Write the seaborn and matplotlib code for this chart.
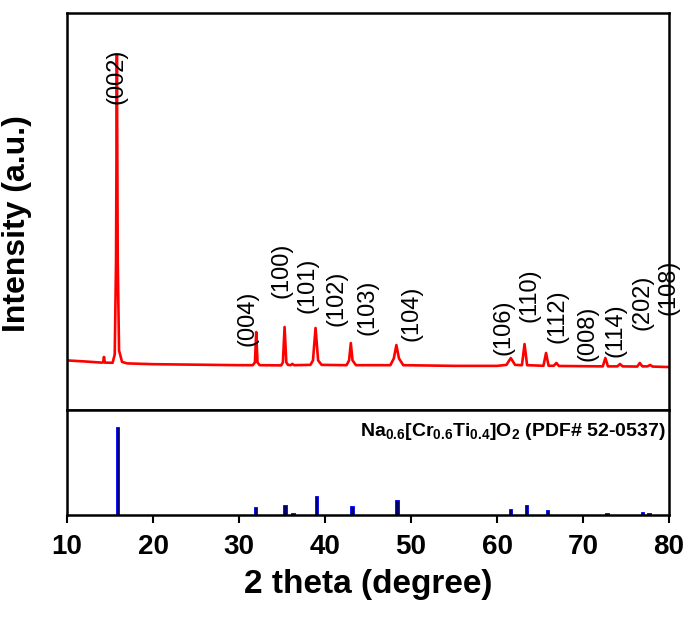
import matplotlib
matplotlib.use("Agg")
import matplotlib.pyplot as plt
import seaborn as sns
import pandas as pd

# Measured XRD trace (2-theta in degrees, intensity in counts)
two_theta = [10.0, 12.0, 14.0, 14.2, 14.3, 14.4, 15.3, 15.55, 15.7, 15.8, 15.9, 16.05, 16.4,
             17.0, 20.0, 25.0, 30.0, 31.6, 31.85, 32.0, 32.15, 32.4,
             34.9, 35.1, 35.3, 35.5, 35.7, 36.0, 36.2, 36.4,
             38.3, 38.6, 38.9, 39.2, 39.6,
             42.5, 42.8, 43.0, 43.2, 43.6,
             47.6, 48.0, 48.3, 48.6, 49.1,
             55.0, 60.0, 61.1, 61.6, 62.1,
             62.9, 63.2, 63.5,
             65.4, 65.7, 66.0, 66.6, 66.9, 67.2,
             72.3, 72.6, 72.9, 74.0, 74.3, 74.6,
             76.3, 76.6, 76.9, 77.5, 77.8, 78.1, 80.0]
intensity = [500, 490, 478, 480, 535, 478, 476, 560, 1500, 3580, 1500, 600, 485,
             470, 462, 457, 452, 452, 480, 786, 480, 452,
             450, 480, 837, 480, 455, 452, 465, 452,
             455, 500, 827, 500, 455,
             452, 500, 675, 500, 452,
             452, 520, 655, 520, 452,
             445, 445, 455, 524, 455,
             452, 665, 452,
             446, 575, 446, 446, 474, 444,
             440, 524, 440, 440, 464, 440,
             438, 474, 440, 440, 454, 438, 433]

# Reflection indices and where their labels sit
hkl_labels = ["(002)", "(004)", "(100)", "(101)", "(102)", "(103)", "(104)",
              "(106)", "(110)", "(112)", "(008)", "(114)", "(202)", "(108)"]
hkl_x = [15.8, 31.0, 34.9, 38.0, 41.3, 44.9, 50.1, 60.7, 63.8, 67.0, 70.5, 73.8, 76.9, 79.9]
hkl_y = [3367, 927, 1411, 1260, 1129, 1038, 978, 837, 1159, 948, 776, 806, 1089, 1240]

# Reference pattern PDF# 52-0537 (relative intensity)
ref_pos = [15.85, 31.9, 35.35, 36.27, 38.99, 43.13, 48.34, 61.57, 63.41, 65.85, 72.76, 76.9, 77.7]
ref_int = [100, 8.7, 11.0, 2.7, 21.7, 9.9, 17.1, 6.8, 11.8, 5.7, 1.9, 3.0, 1.9]

x_ticks = [10, 20, 30, 40, 50, 60, 70, 80]

sns.set_style("ticks")
plt.rcParams["font.family"] = ["Liberation Sans", "DejaVu Sans"]
plt.rcParams["text.color"] = "black"
plt.rcParams["axes.labelcolor"] = "black"
plt.rcParams["xtick.color"] = "black"
plt.rcParams["ytick.color"] = "black"
plt.rcParams["mathtext.fontset"] = "custom"
plt.rcParams["mathtext.rm"] = "Liberation Sans:bold"
plt.rcParams["mathtext.bf"] = "Liberation Sans:bold"
plt.rcParams["mathtext.it"] = "Liberation Sans:bold"

fig = plt.figure(figsize=(6.88, 6.22), dpi=100)
ax_top = fig.add_axes([0.0974, 0.3408, 0.875, 0.638])
ax_bot = fig.add_axes([0.0974, 0.1720, 0.875, 0.1688], sharex=ax_top)

trace = pd.DataFrame({"two_theta": two_theta, "intensity": intensity})
sns.lineplot(data=trace, x="two_theta", y="intensity", ax=ax_top, color="#ff0000",
             linewidth=1.9, sort=False, estimator=None)

for lab, xx, yy in zip(hkl_labels, hkl_x, hkl_y):
    ax_top.text(xx, yy, lab, rotation=90, ha="center", va="center", fontsize=17,
                color="black")

ax_top.set_xlim(10, 80)
ax_top.set_ylim(0, 4000)
ax_top.set_yticks([])
ax_top.set_xlabel("")
ax_top.set_ylabel("Intensity (a.u.)", fontsize=23, fontweight="bold")
ax_top.yaxis.set_label_coords(-0.058, 0.47)
ax_top.tick_params(axis="x", bottom=False, labelbottom=False)

ax_bot.bar(ref_pos, ref_int, width=0.42, color="#000070", edgecolor="#1010ff",
           linewidth=0.7)
ax_bot.set_ylim(0, 119)
ax_bot.set_yticks([])
ax_bot.set_xticks(x_ticks)
ax_bot.set_xticklabels([str(t) for t in x_ticks], fontsize=20, fontweight="bold")
ax_bot.tick_params(axis="x", direction="out", length=6, width=1.5, pad=8)
ax_bot.set_xlabel("2 theta (degree)", fontsize=24, fontweight="bold", labelpad=6)
ax_bot.text(79.6, 95, r"Na$_{0.6}$[Cr$_{0.6}$Ti$_{0.4}$]O$_{2}$ (PDF# 52-0537)",
            ha="right", va="center", fontsize=14, fontweight="bold")

for ax in (ax_top, ax_bot):
    for sp in ax.spines.values():
        sp.set_visible(True)
        sp.set_linewidth(1.8)
        sp.set_color("black")

fig.savefig("out.png", dpi=100)
